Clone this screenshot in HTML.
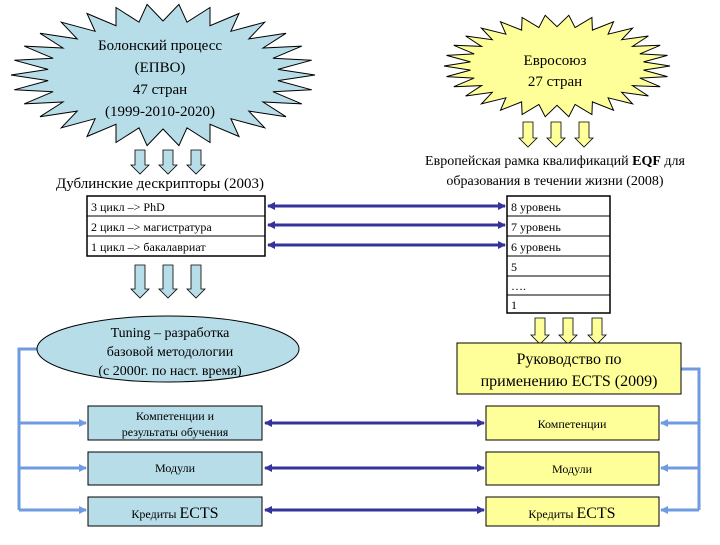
<!DOCTYPE html>
<html><head><meta charset="utf-8"><style>
html,body{margin:0;padding:0;background:#fff;}
svg, svg text{font-family:"Liberation Serif","DejaVu Serif",serif;}
</style></head><body>
<svg id="s" width="720" height="540" viewBox="0 0 720 540" xmlns="http://www.w3.org/2000/svg" font-family="Liberation Serif, DejaVu Serif, serif">
<defs>
<marker id="dh" markerWidth="8" markerHeight="8" refX="7" refY="4" orient="auto-start-reverse" markerUnits="userSpaceOnUse"><path d="M0,0 L8,4 L0,8 z" fill="#333399"/></marker>
<marker id="lh" markerWidth="8" markerHeight="8" refX="7" refY="4" orient="auto" markerUnits="userSpaceOnUse"><path d="M0,0 L8,4 L0,8 z" fill="#6f9be0"/></marker>
</defs>
<polygon id="star1" fill="#b7dde8" stroke="#000" stroke-width="1"/>
<polygon id="star2" fill="#ffff99" stroke="#000" stroke-width="1"/>
<g font-size="15" text-anchor="middle" font-family="Liberation Serif, serif">
<text x="160" y="50">Болонский процесс</text>
<text x="160" y="72">(ЕПВО)</text>
<text x="160" y="94">47 стран</text>
<text x="160" y="116">(1999-2010-2020)</text>
<text x="555" y="65">Евросоюз</text>
<text x="555" y="86">27 стран</text>
<text x="160" y="188">Дублинские дескрипторы (2003)</text>
<text x="555" y="165" font-size="14">Европейская рамка квалификаций <tspan font-weight="bold">EQF</tspan> для</text>
<text x="555" y="185" font-size="14">образования в течении жизни (2008)</text>
</g>
<g id="arrows"></g>
<rect x="87" y="196" width="178" height="60" fill="#fff" stroke="#000" stroke-width="1.5"/>
<line x1="87" y1="216" x2="265" y2="216" stroke="#000"/>
<line x1="87" y1="236" x2="265" y2="236" stroke="#000"/>
<g font-size="12" font-family="Liberation Serif, serif"><text x="91" y="211">3 цикл –&gt; PhD</text><text x="91" y="231">2 цикл –&gt; магистратура</text><text x="91" y="251">1 цикл –&gt; бакалавриат</text></g>
<rect x="507" y="196" width="103" height="117" fill="#fff" stroke="#000" stroke-width="1.5"/>
<g stroke="#000"><line x1="507" y1="216" x2="610" y2="216"/><line x1="507" y1="236" x2="610" y2="236"/><line x1="507" y1="256" x2="610" y2="256"/><line x1="507" y1="276" x2="610" y2="276"/><line x1="507" y1="295" x2="610" y2="295"/></g>
<g font-size="12" font-family="Liberation Serif, serif"><text x="511" y="211">8 уровень</text><text x="511" y="231">7 уровень</text><text x="511" y="251">6 уровень</text><text x="511" y="271">5</text><text x="511" y="290">….</text><text x="511" y="309">1</text></g>
<g stroke="#333399" stroke-width="3">
<line x1="268" y1="206" x2="505" y2="206" marker-start="url(#dh)" marker-end="url(#dh)"/>
<line x1="268" y1="225" x2="505" y2="225" marker-start="url(#dh)" marker-end="url(#dh)"/>
<line x1="268" y1="245" x2="505" y2="245" marker-start="url(#dh)" marker-end="url(#dh)"/>
<line x1="265" y1="423" x2="484" y2="423" marker-start="url(#dh)" marker-end="url(#dh)"/>
<line x1="265" y1="468" x2="484" y2="468" marker-start="url(#dh)" marker-end="url(#dh)"/>
<line x1="265" y1="510" x2="484" y2="510" marker-start="url(#dh)" marker-end="url(#dh)"/>
</g>
<g stroke="#6f9be0" stroke-width="3" fill="none">
<polyline points="40,349 19,349 19,510"/>
<line x1="19" y1="423" x2="86" y2="423" marker-end="url(#lh)"/>
<line x1="19" y1="468" x2="86" y2="468" marker-end="url(#lh)"/>
<line x1="19" y1="510" x2="86" y2="510" marker-end="url(#lh)"/>
<polyline points="681,369 699,369 699,510"/>
<line x1="699" y1="423" x2="661" y2="423" marker-end="url(#lh)"/>
<line x1="699" y1="468" x2="661" y2="468" marker-end="url(#lh)"/>
<line x1="699" y1="510" x2="661" y2="510" marker-end="url(#lh)"/>
</g>
<ellipse cx="168" cy="349" rx="131" ry="33" fill="#b7dde8" stroke="#000"/>
<g font-size="14" text-anchor="middle" font-family="Liberation Serif, serif"><text x="170" y="337">Tuning – разработка</text><text x="170" y="356">базовой методологии</text><text x="170" y="375">(с 2000г. по наст. время)</text></g>
<rect x="457" y="343" width="224" height="51" fill="#ffff99" stroke="#000"/>
<g font-size="16" text-anchor="middle" font-family="Liberation Serif, serif"><text x="569" y="364">Руководство по</text><text x="569" y="386">применению ECTS (2009)</text></g>
<g fill="#b7dde8" stroke="#000"><rect x="88" y="406" width="174" height="34"/><rect x="88" y="452" width="174" height="33"/><rect x="88" y="497" width="174" height="29"/></g>
<g fill="#ffff99" stroke="#000"><rect x="486" y="406" width="173" height="34"/><rect x="486" y="452" width="173" height="33"/><rect x="486" y="497" width="173" height="29"/></g>
<g font-size="12" text-anchor="middle" font-family="Liberation Serif, serif">
<text x="175" y="420">Компетенции и</text><text x="175" y="436">результаты обучения</text>
<text x="175" y="472">Модули</text>
<text x="175" y="518">Кредиты <tspan font-size="16">ECTS</tspan></text>
<text x="572" y="428">Компетенции</text>
<text x="572" y="473">Модули</text>
<text x="572" y="518">Кредиты <tspan font-size="16">ECTS</tspan></text>
</g>
</svg>
<script>
function star(id,cx,cy,rx,ry,n,inner){var p=[];for(var i=0;i<2*n;i++){var a=Math.PI*i/n;var f=(i%2==0)?1:inner;p.push((cx+rx*f*Math.cos(a)).toFixed(1)+","+(cy+ry*f*Math.sin(a)).toFixed(1));}document.getElementById(id).setAttribute("points",p.join(" "));}
star("star1",163,75,152,71,30,0.76);
star("star2",557,66,113,51,30,0.77);
function arr(x,y,h,fill){var w=9,s=5;return '<path d="M'+(x-s)+','+y+' L'+(x+s)+','+y+' L'+(x+s)+','+(y+h-9)+' L'+(x+w)+','+(y+h-9)+' L'+x+','+(y+h)+' L'+(x-w)+','+(y+h-9)+' L'+(x-s)+','+(y+h-9)+' Z" fill="'+fill+'" stroke="#000" stroke-width="0.8"/>';}
var g="",b="#b7dde8",yl="#ffff99";
[140,168,196].forEach(function(x){g+=arr(x,150,24,b);g+=arr(x,265,33,b);});
[528,556,584].forEach(function(x){g+=arr(x,122,25,yl);});
[540,568,597].forEach(function(x){g+=arr(x,318,26,yl);});
document.getElementById("arrows").innerHTML=g;
</script>
</body></html>
